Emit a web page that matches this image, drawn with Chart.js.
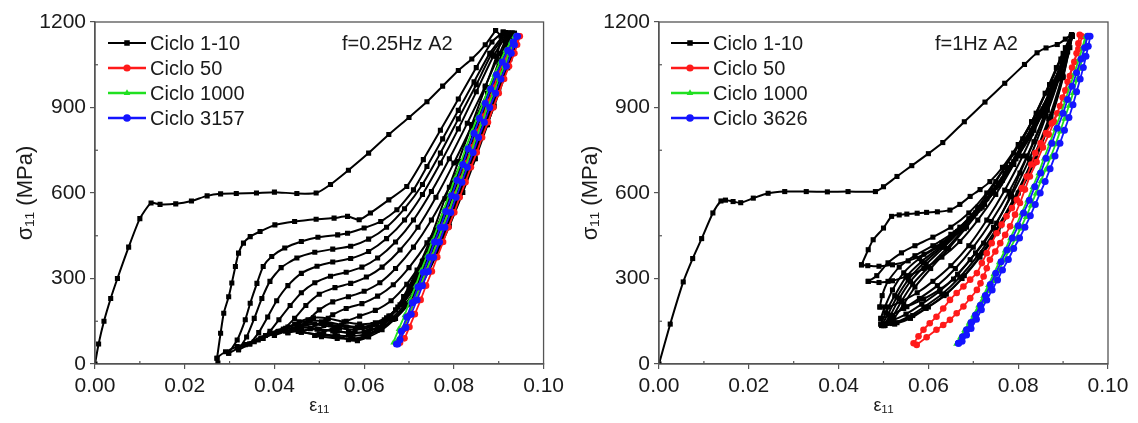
<!DOCTYPE html>
<html><head><meta charset="utf-8">
<script src="https://cdn.jsdelivr.net/npm/chart.js@4.4.1/dist/chart.umd.min.js"></script>
<style>
html,body{margin:0;padding:0;background:#fff;overflow:hidden}
#wrap{position:relative;width:1138px;height:423px}
canvas{position:absolute;top:0}
</style></head>
<body><div id="wrap">
<canvas id="c1" width="569" height="423" style="left:0"></canvas>
<canvas id="c2" width="569" height="423" style="left:569px"></canvas>
</div>
<script>
// ---------------- DATA (strain ε11, stress σ11 in MPa) ----------------
const xTicks = [0, 0.02, 0.04, 0.06, 0.08, 0.10];
const yTicks = [0, 300, 600, 900, 1200];
const legendLeft  = ['Ciclo 1-10', 'Ciclo 50', 'Ciclo 1000', 'Ciclo 3157'];
const legendRight = ['Ciclo 1-10', 'Ciclo 50', 'Ciclo 1000', 'Ciclo 3626'];
const noteLeft = 'f=0.25Hz A2';
const noteRight = 'f=1Hz A2';

// ---- Left panel (f = 0.25 Hz), cycles 1-10 ----
const L_load1 = [[0,0],[0.0008,70],[0.002,150],[0.0035,230],[0.005,300],[0.0075,410],[0.010,510],[0.0125,565],[0.0145,560],[0.018,562],[0.0215,572],[0.025,590],[0.028,597],[0.0315,598],[0.036,600],[0.040,603],[0.045,598],[0.0493,600],[0.0525,630],[0.0565,680],[0.061,740],[0.0655,805],[0.070,865],[0.074,920],[0.0775,975],[0.081,1030],[0.084,1070],[0.087,1120],[0.0893,1170]];
const L_unload1 = [[0.0893,1170],[0.0905,1150],[0.0895,1080],[0.087,970],[0.084,840],[0.081,710],[0.078,580],[0.0747,436],[0.0718,330],[0.0688,237],[0.0659,166],[0.0629,119],[0.0585,84],[0.0541,96],[0.0497,102],[0.0453,114],[0.0408,114],[0.0364,84],[0.0317,61],[0.0291,43],[0.0272,20],[0.0274,3]];
const L_load2 = [[0.0272,20],[0.0280,108],[0.0287,178],[0.0298,236],[0.0305,284],[0.0313,342],[0.0320,389],[0.0331,424],[0.0346,447],[0.0368,465],[0.0401,488],[0.0445,500],[0.0493,508],[0.0533,512],[0.0563,518],[0.0589,506],[0.0614,530],[0.0655,576],[0.0695,623],[0.0732,717],[0.077,820],[0.081,930],[0.085,1040],[0.0885,1130],[0.091,1165]];
const L_unload2 = [[0.091,1165],[0.0915,1130],[0.090,1060],[0.0875,950],[0.0848,830],[0.082,710],[0.079,590],[0.076,470],[0.073,360],[0.070,265],[0.067,190],[0.064,140],[0.061,115],[0.0575,108],[0.054,115],[0.050,122],[0.046,128],[0.042,122],[0.038,100],[0.0335,68],[0.0298,38]];
const L_load3 = [[0.0298,38],[0.0317,84],[0.0335,155],[0.0346,213],[0.0361,283],[0.0375,342],[0.0394,377],[0.0423,407],[0.046,430],[0.0497,445],[0.0541,453],[0.0563,459],[0.060,477],[0.0637,500],[0.0673,541],[0.071,611],[0.074,693],[0.0775,790],[0.081,890],[0.0845,990],[0.088,1090],[0.0915,1163]];
const L_unload3 = [[0.0915,1163],[0.092,1130],[0.0905,1065],[0.088,955],[0.0853,835],[0.0825,715],[0.0795,595],[0.0765,475],[0.0735,365],[0.0705,272],[0.0675,200],[0.0645,155],[0.0615,130],[0.058,120],[0.0545,126],[0.051,135],[0.047,140],[0.043,130],[0.039,108],[0.0355,78],[0.032,50]];
const L_load4 = [[0.032,50],[0.0338,95],[0.0355,160],[0.0372,230],[0.039,290],[0.0415,338],[0.045,372],[0.049,392],[0.053,403],[0.057,413],[0.061,438],[0.065,480],[0.069,545],[0.073,630],[0.077,740],[0.081,860],[0.085,980],[0.0885,1090],[0.0918,1160]];
const L_unload4 = [[0.0918,1160],[0.0922,1130],[0.0908,1065],[0.0884,958],[0.0857,838],[0.083,718],[0.080,598],[0.077,478],[0.074,370],[0.071,278],[0.068,208],[0.065,162],[0.062,138],[0.0585,130],[0.055,137],[0.0515,148],[0.048,152],[0.0445,140],[0.041,115],[0.0375,90],[0.0345,70]];
const L_load5 = [[0.0345,70],[0.0365,110],[0.0385,165],[0.0405,222],[0.043,275],[0.046,318],[0.0495,343],[0.053,358],[0.057,370],[0.061,395],[0.065,440],[0.069,505],[0.073,595],[0.077,705],[0.081,825],[0.085,955],[0.0888,1080],[0.092,1160]];
const L_unload5 = [[0.092,1160],[0.0924,1130],[0.091,1065],[0.0887,958],[0.086,838],[0.0833,718],[0.0805,598],[0.0775,480],[0.0745,372],[0.0715,282],[0.0685,212],[0.0655,168],[0.0625,145],[0.059,140],[0.0555,148],[0.052,160],[0.0487,162],[0.0455,148],[0.0425,125],[0.037,90]];
const L_load6 = [[0.037,90],[0.039,115],[0.041,155],[0.0435,205],[0.046,250],[0.049,285],[0.0525,308],[0.056,322],[0.0595,340],[0.063,372],[0.067,428],[0.071,505],[0.075,605],[0.079,720],[0.083,845],[0.087,975],[0.0902,1090],[0.0922,1160]];
const L_unload6 = [[0.0922,1160],[0.0926,1130],[0.0912,1065],[0.089,958],[0.0863,838],[0.0836,718],[0.0808,598],[0.0778,480],[0.0748,374],[0.0718,284],[0.0688,215],[0.0658,168],[0.0628,140],[0.0595,128],[0.056,130],[0.0525,138],[0.049,140],[0.0455,130],[0.0425,115],[0.040,100]];
const L_load7 = [[0.040,100],[0.042,122],[0.0445,160],[0.047,205],[0.050,245],[0.0535,268],[0.057,283],[0.0605,305],[0.064,340],[0.068,400],[0.072,480],[0.076,585],[0.080,705],[0.084,835],[0.088,970],[0.0908,1080],[0.0925,1160]];
const L_unload7 = [[0.0925,1160],[0.0928,1130],[0.0915,1065],[0.0893,958],[0.0866,838],[0.0839,718],[0.0811,598],[0.0781,478],[0.0751,372],[0.0721,280],[0.0691,208],[0.0661,160],[0.0631,128],[0.060,112],[0.0565,110],[0.053,116],[0.0495,122],[0.046,118],[0.043,110]];
const L_load8 = [[0.043,110],[0.045,125],[0.0475,155],[0.050,190],[0.053,218],[0.0565,236],[0.060,255],[0.0635,285],[0.067,335],[0.071,410],[0.075,505],[0.079,620],[0.083,750],[0.087,895],[0.090,1020],[0.093,1160]];
const L_unload8 = [[0.093,1160],[0.0928,1100],[0.0915,1040],[0.0895,958],[0.0869,840],[0.0842,720],[0.0814,600],[0.0784,480],[0.0754,374],[0.0724,280],[0.0694,207],[0.0664,156],[0.0634,124],[0.0603,104],[0.057,98],[0.0535,100],[0.050,104],[0.046,112]];
const L_load9 = [[0.046,112],[0.048,124],[0.0505,148],[0.053,173],[0.056,195],[0.0595,212],[0.063,238],[0.0665,278],[0.070,338],[0.074,425],[0.078,535],[0.082,665],[0.086,810],[0.0895,955],[0.093,1160]];
const L_unload9 = [[0.093,1160],[0.093,1100],[0.0918,1040],[0.0898,958],[0.0872,840],[0.0845,720],[0.0817,602],[0.0787,484],[0.0757,378],[0.0727,284],[0.0697,210],[0.0667,158],[0.0637,122],[0.0606,100],[0.0575,88],[0.054,90],[0.0505,96],[0.049,100]];
const L_load10 = [[0.049,100],[0.051,112],[0.0535,130],[0.056,150],[0.059,168],[0.0625,188],[0.066,222],[0.0695,280],[0.073,360],[0.077,465],[0.081,595],[0.085,745],[0.089,905],[0.0925,1070],[0.0935,1160]];
const L_unload10 = [[0.0935,1160],[0.0932,1100],[0.092,1040],[0.090,958],[0.0875,840],[0.0848,720],[0.082,602],[0.079,484],[0.076,378],[0.073,285],[0.070,212],[0.067,160],[0.064,120],[0.061,95],[0.0585,82],[0.0565,85]];
// Left panel, later cycles
const L_c50 = [[0.0675,75],[0.0688,122],[0.070,170],[0.0713,222],[0.0727,275],[0.074,328],[0.0752,380],[0.0765,432],[0.0777,485],[0.079,540],[0.0802,595],[0.0815,650],[0.0827,705],[0.084,760],[0.0852,815],[0.0865,868],[0.0877,920],[0.0889,970],[0.090,1020],[0.0913,1065],[0.0925,1105],[0.0937,1135],[0.0945,1150],
  [0.0947,1150],[0.0941,1120],[0.0935,1090],[0.0923,1045],[0.0912,1000],[0.090,950],[0.0888,900],[0.0876,848],[0.0863,795],[0.0851,742],[0.0838,690],[0.0826,638],[0.0813,585],[0.0801,532],[0.0788,480],[0.0776,428],[0.0763,375],[0.0751,325],[0.0738,275],[0.0726,225],[0.0713,175],[0.0701,130],[0.069,90],[0.068,75]];
const L_c1000 = [[0.0665,75],[0.0677,122],[0.069,170],[0.0702,222],[0.0715,275],[0.0727,328],[0.074,380],[0.0752,432],[0.0765,485],[0.0777,540],[0.079,595],[0.0802,650],[0.0815,705],[0.0827,760],[0.084,815],[0.0852,865],[0.0865,915],[0.0877,965],[0.089,1015],[0.0903,1060],[0.0915,1100],[0.0927,1130],[0.0935,1150],
  [0.0937,1150],[0.093,1120],[0.0923,1090],[0.0912,1045],[0.090,1000],[0.0888,950],[0.0875,900],[0.0863,848],[0.085,795],[0.0838,742],[0.0825,690],[0.0813,638],[0.080,585],[0.0788,532],[0.0775,480],[0.0763,428],[0.075,375],[0.0738,325],[0.0725,275],[0.0713,225],[0.070,175],[0.0688,130],[0.0675,85],[0.067,75]];
const L_c3157 = [[0.0672,70],[0.0683,115],[0.0695,165],[0.0707,215],[0.072,270],[0.0732,322],[0.0745,375],[0.0757,428],[0.077,480],[0.0782,535],[0.0795,590],[0.0807,645],[0.082,700],[0.0832,755],[0.0845,810],[0.0857,862],[0.087,915],[0.0882,965],[0.0895,1015],[0.0908,1060],[0.092,1100],[0.0932,1130],[0.094,1150],
  [0.0942,1150],[0.0935,1120],[0.0928,1090],[0.0917,1045],[0.0905,1000],[0.0893,950],[0.088,900],[0.0868,848],[0.0855,795],[0.0843,742],[0.083,690],[0.0818,638],[0.0805,585],[0.0793,532],[0.078,480],[0.0768,428],[0.0755,375],[0.0743,325],[0.073,275],[0.0718,225],[0.0705,175],[0.0693,128],[0.068,85],[0.0675,70]];

// ---- Right panel (f = 1 Hz), cycles 1-10 ----
const R_load1 = [[0,0],[0.0025,140],[0.0054,288],[0.0075,370],[0.0095,440],[0.012,530],[0.0138,572],[0.0148,575],[0.0165,570],[0.0182,566],[0.021,582],[0.0243,599],[0.028,605],[0.0328,605],[0.0375,604],[0.0421,605],[0.0482,605],[0.050,622],[0.053,658],[0.0563,696],[0.060,738],[0.0632,777],[0.068,850],[0.0726,919],[0.077,985],[0.0814,1051],[0.0842,1092],[0.0862,1109],[0.0887,1121],[0.0905,1140],[0.0919,1156]];
const R_unload1 = [[0.0919,1156],[0.0905,1110],[0.0885,1040],[0.086,950],[0.083,850],[0.080,770],[0.0765,690],[0.0737,640],[0.0715,612],[0.0693,588],[0.067,560],[0.0648,540],[0.062,534],[0.0596,532],[0.0575,529],[0.0552,526],[0.0535,523],[0.0518,518],[0.050,477],[0.0477,436],[0.0466,401],[0.0451,348]];
const R_load2 = [[0.0451,348],[0.0465,345],[0.049,343],[0.052,348],[0.0555,362],[0.059,385],[0.063,425],[0.067,480],[0.071,550],[0.075,640],[0.079,740],[0.083,850],[0.087,980],[0.090,1090],[0.0918,1150]];
const R_unload2 = [[0.0918,1150],[0.0895,1070],[0.087,980],[0.084,880],[0.081,790],[0.077,690],[0.073,600],[0.069,530],[0.065,480],[0.061,445],[0.057,415],[0.054,390],[0.051,355],[0.0485,310],[0.0466,290]];
const R_load3 = [[0.0466,290],[0.049,286],[0.052,292],[0.0555,310],[0.059,335],[0.063,375],[0.067,430],[0.071,505],[0.075,595],[0.079,700],[0.083,820],[0.087,950],[0.090,1070],[0.092,1150]];
const R_unload3 = [[0.092,1150],[0.0898,1060],[0.0872,960],[0.084,860],[0.0805,760],[0.077,670],[0.073,580],[0.069,510],[0.065,455],[0.061,415],[0.057,380],[0.0535,340],[0.051,290],[0.0497,240],[0.0492,200]];
const R_load4 = [[0.0492,200],[0.051,200],[0.054,220],[0.0575,250],[0.061,290],[0.065,345],[0.069,415],[0.073,505],[0.077,610],[0.081,730],[0.085,870],[0.088,990],[0.0905,1090],[0.092,1150]];
const R_unload4 = [[0.092,1150],[0.090,1070],[0.0875,970],[0.0845,870],[0.081,770],[0.0775,680],[0.074,600],[0.070,520],[0.066,460],[0.062,410],[0.058,370],[0.0545,320],[0.052,260],[0.0503,200],[0.0494,160]];
const R_load5 = [[0.0494,160],[0.0515,170],[0.0545,195],[0.058,230],[0.062,275],[0.066,335],[0.070,410],[0.074,500],[0.078,605],[0.082,730],[0.086,880],[0.089,1010],[0.091,1100],[0.092,1150]];
const R_unload5 = [[0.092,1150],[0.0903,1075],[0.0878,975],[0.0848,875],[0.0815,780],[0.078,690],[0.0745,610],[0.0705,530],[0.0665,465],[0.0625,410],[0.0585,360],[0.055,305],[0.0525,240],[0.0505,180],[0.0494,140]];
const R_load6 = [[0.0494,140],[0.0515,150],[0.055,175],[0.0585,210],[0.0625,255],[0.0665,315],[0.0705,390],[0.0745,480],[0.0785,590],[0.0825,720],[0.0862,870],[0.0895,1020],[0.092,1150]];
const R_unload6 = [[0.092,1150],[0.0905,1080],[0.088,985],[0.085,885],[0.082,790],[0.0785,700],[0.075,620],[0.071,540],[0.067,470],[0.063,410],[0.059,355],[0.0555,295],[0.053,235],[0.051,175],[0.0496,135]];
const R_load7 = [[0.0496,135],[0.052,142],[0.0555,165],[0.059,200],[0.063,245],[0.067,305],[0.071,380],[0.075,470],[0.079,580],[0.083,710],[0.0868,860],[0.0898,1010],[0.092,1150]];
const R_unload7 = [[0.092,1150],[0.0907,1085],[0.0883,990],[0.0855,895],[0.0825,800],[0.079,710],[0.0755,625],[0.0715,545],[0.0675,475],[0.0635,410],[0.0595,350],[0.056,290],[0.0535,230],[0.0515,170],[0.050,135]];
const R_load8 = [[0.050,135],[0.0525,140],[0.056,160],[0.0595,195],[0.0635,240],[0.0675,300],[0.0715,375],[0.0755,465],[0.0795,575],[0.0835,705],[0.0872,855],[0.090,1005],[0.092,1150]];
const R_unload8 = [[0.092,1150],[0.0908,1090],[0.0886,1000],[0.086,905],[0.083,810],[0.0795,720],[0.076,635],[0.072,550],[0.068,475],[0.064,405],[0.060,340],[0.0565,280],[0.054,220],[0.052,165],[0.0503,135]];
const R_load9 = [[0.0503,135],[0.053,145],[0.0565,170],[0.060,200],[0.064,245],[0.068,310],[0.072,390],[0.076,485],[0.080,600],[0.0838,730],[0.0873,870],[0.090,1010],[0.092,1150]];
const R_unload9 = [[0.092,1150],[0.091,1095],[0.089,1010],[0.0865,915],[0.0835,820],[0.080,730],[0.0765,645],[0.0725,560],[0.0685,480],[0.0645,405],[0.0605,335],[0.057,270],[0.0545,210],[0.0523,160],[0.050,135]];
const R_load10 = [[0.050,135],[0.0515,166],[0.0552,201],[0.0589,228],[0.0626,262],[0.0656,298],[0.0693,366],[0.0723,424],[0.0752,494],[0.0782,588],[0.0804,670],[0.0835,780],[0.0865,890],[0.089,1000],[0.0915,1110],[0.092,1150]];
// Right panel, later cycles
const R_c50 = [[0.0567,73],[0.0578,97],[0.0589,120],[0.0603,143],[0.0618,166],[0.0633,195],[0.0648,225],[0.0663,249],[0.0678,272],[0.0693,296],[0.0708,319],[0.0719,354],[0.0730,389],[0.0741,424],[0.0752,459],[0.0763,489],[0.0774,518],[0.0786,547],[0.0797,576],[0.0808,617],[0.0819,658],[0.0829,700],[0.0838,740],[0.085,775],[0.0862,810],[0.0875,845],[0.0887,880],[0.0899,935],[0.091,990],[0.092,1040],[0.093,1090],[0.0934,1125],[0.0937,1155],
  [0.0942,1150],[0.0934,1105],[0.0925,1060],[0.0915,1010],[0.0905,960],[0.0893,905],[0.088,850],[0.0868,805],[0.0855,760],[0.0841,709],[0.0826,658],[0.0815,612],[0.0804,565],[0.0793,524],[0.0782,483],[0.0771,453],[0.0760,424],[0.0749,395],[0.0737,366],[0.073,336],[0.0723,307],[0.0716,283],[0.0708,260],[0.0693,231],[0.0678,202],[0.0663,178],[0.0648,155],[0.0633,137],[0.0618,120],[0.0596,94],[0.0574,67]];
const R_c1000 = [[0.0662,70],[0.0671,94],[0.068,118],[0.069,144],[0.070,170],[0.0711,204],[0.0722,238],[0.0733,276],[0.0745,315],[0.0757,356],[0.077,397],[0.0782,440],[0.0795,483],[0.0807,528],[0.082,573],[0.0832,620],[0.0845,668],[0.0857,720],[0.087,773],[0.0882,825],[0.0895,878],[0.0905,925],[0.0915,973],[0.0925,1020],[0.0935,1068],[0.0943,1110],[0.095,1150],
  [0.0953,1150],[0.0948,1112],[0.0943,1075],[0.0937,1035],[0.093,995],[0.0922,950],[0.0913,905],[0.0903,860],[0.0893,815],[0.0883,770],[0.0872,725],[0.0861,682],[0.085,640],[0.0839,597],[0.0828,555],[0.0817,515],[0.0805,475],[0.0793,437],[0.078,400],[0.0768,362],[0.0755,325],[0.0744,290],[0.0732,255],[0.072,220],[0.0708,185],[0.0697,152],[0.0685,120],[0.0675,97],[0.0665,75]];
const R_c3626 = [[0.0667,73],[0.0676,96],[0.0685,120],[0.0695,146],[0.0705,172],[0.0716,206],[0.0727,240],[0.0738,279],[0.075,318],[0.0762,359],[0.0775,400],[0.0787,442],[0.080,485],[0.0812,530],[0.0825,575],[0.0837,622],[0.085,670],[0.0862,722],[0.0875,775],[0.0887,827],[0.090,880],[0.091,928],[0.092,975],[0.093,1022],[0.094,1070],[0.0948,1110],[0.0955,1150],
  [0.096,1150],[0.0956,1115],[0.0951,1080],[0.0945,1040],[0.0938,1000],[0.093,955],[0.0922,910],[0.0913,865],[0.0903,820],[0.0893,775],[0.0882,730],[0.0871,685],[0.086,640],[0.0849,600],[0.0838,560],[0.0827,520],[0.0815,480],[0.0803,442],[0.079,405],[0.0778,367],[0.0765,330],[0.0754,295],[0.0742,260],[0.073,225],[0.0718,190],[0.0707,157],[0.0695,125],[0.0685,102],[0.0675,80],[0.0667,73]];

const leftBlack = [L_load1,L_unload1,L_load2,L_unload2,L_load3,L_unload3,L_load4,L_unload4,L_load5,L_unload5,L_load6,L_unload6,L_load7,L_unload7,L_load8,L_unload8,L_load9,L_unload9,L_load10,L_unload10];
const rightBlack = [R_load1,R_unload1,R_load2,R_unload2,R_load3,R_unload3,R_load4,R_unload4,R_load5,R_unload5,R_load6,R_unload6,R_load7,R_unload7,R_load8,R_unload8,R_load9,R_unload9,R_load10];

// ---------------- STYLE ----------------
const FONT = "'Liberation Sans', Arial, sans-serif";
const TXT = '#1a1a1a';
const AX = '#555';
const STY = [
  {color:'#000000', style:'rect', r:3.6},
  {color:'#ff1a1a', style:'circle', r:3.3},
  {color:'#20e020', style:'triangle', r:3.5},
  {color:'#1414ff', style:'circle', r:3.5}
];

// order: lower value is drawn on top in Chart.js
function ds(arr, s, bw, order){
  return {data: arr.map(p=>({x:p[0], y:p[1]})), showLine:true, tension:0.2, order,
    borderColor:s.color, backgroundColor:s.color, borderWidth:bw,
    pointStyle:s.style, pointRadius:s.r, pointBorderWidth:0, pointHoverRadius:s.r};
}

const boxPlugin = {
  id:'boxPlugin',
  afterDraw(chart){
    const o = chart.options.plugins.boxPlugin;
    const {ctx, chartArea:a, scales:{x, y}} = chart;
    ctx.save();
    ctx.strokeStyle = AX; ctx.lineWidth = 1.3;
    ctx.strokeRect(a.left, a.top, a.right - a.left, a.bottom - a.top);
    ctx.lineWidth = 1.2;
    for (let i = 1; i < xTicks.length; i++){
      const px = x.getPixelForValue((xTicks[i-1] + xTicks[i]) / 2);
      ctx.beginPath(); ctx.moveTo(px, a.bottom); ctx.lineTo(px, a.bottom - 3); ctx.stroke();
    }
    for (let i = 1; i < yTicks.length; i++){
      const py = y.getPixelForValue((yTicks[i-1] + yTicks[i]) / 2);
      ctx.beginPath(); ctx.moveTo(a.left, py); ctx.lineTo(a.left + 3, py); ctx.stroke();
    }
    const lx = a.left + o.legX, len = 38;
    o.labels.forEach((t, i) => {
      const s = STY[i];
      const ly = a.top + 21 + i * 25;
      ctx.strokeStyle = s.color; ctx.fillStyle = s.color; ctx.lineWidth = i === 0 ? 2 : 2.4;
      ctx.beginPath(); ctx.moveTo(lx, ly); ctx.lineTo(lx + len, ly); ctx.stroke();
      Chart.helpers.drawPoint(ctx, {pointStyle:s.style, radius:s.r + 0.3, rotation:0, borderWidth:0}, lx + len/2, ly);
      ctx.fillStyle = TXT; ctx.font = '20px ' + FONT; ctx.textBaseline = 'middle'; ctx.textAlign = 'left';
      ctx.fillText(t, lx + len + 4, ly + 1);
    });
    ctx.fillStyle = TXT; ctx.font = '20px ' + FONT; ctx.textBaseline = 'middle'; ctx.textAlign = 'left';
    ctx.fillText(o.note, a.left + o.noteX, a.top + 22);
    ctx.restore();
  }
};

function makeChart(id, black, colored, labels, note, opt){
  const datasets = black.map(a => ds(a, STY[0], 2.0, 10));
  colored.forEach((a, i) => datasets.push(ds(a, STY[i+1], 1.8, 3 - i)));
  return new Chart(document.getElementById(id), {
    type:'scatter',
    data:{datasets},
    options:{
      responsive:false, animation:false, devicePixelRatio:1,
      layout:{padding:{left:0, right:opt.padRight, top:22, bottom:0}},
      plugins:{legend:{display:false}, tooltip:{enabled:false},
        boxPlugin:{labels, note, legX:opt.legX, noteX:opt.noteX}},
      scales:{
        x:{type:'linear', min:0, max:0.1,
          afterBuildTicks:s=>{s.ticks = xTicks.map(v=>({value:v}));},
          ticks:{callback:v=>Number(v).toFixed(2), font:{family:FONT, size:21}, color:TXT, padding:5, maxRotation:0, autoSkip:false},
          grid:{display:true, drawOnChartArea:false, drawTicks:true, tickLength:5, color:AX, lineWidth:1.2},
          border:{display:true, color:AX, width:1.3},
          title:{display:true, text:'ε₁₁', font:{family:FONT, size:18}, color:TXT, padding:{top:0, bottom:6}},
          afterFit:s=>{s.height = 59;}},
        y:{type:'linear', min:0, max:1200,
          afterBuildTicks:s=>{s.ticks = yTicks.map(v=>({value:v}));},
          ticks:{callback:v=>String(v), font:{family:FONT, size:21}, color:TXT, padding:4, autoSkip:false},
          grid:{display:true, drawOnChartArea:false, drawTicks:true, tickLength:5, color:AX, lineWidth:1.2},
          border:{display:true, color:AX, width:1.3},
          title:{display:true, text:'σ₁₁ (MPa)', font:{family:FONT, size:22}, color:TXT, padding:{top:opt.titlePad, bottom:0}},
          afterFit:s=>{s.width = opt.yWidth;}}
      }
    },
    plugins:[boxPlugin]
  });
}

makeChart('c1', leftBlack, [L_c50, L_c1000, L_c3157], legendLeft, noteLeft,
  {padRight:21, yWidth:95, titlePad:13, legX:13, noteX:247});
makeChart('c2', rightBlack, [R_c50, R_c1000, R_c3626], legendRight, noteRight,
  {padRight:30, yWidth:90, titlePad:9, legX:12, noteX:276});
</script>
</body></html>
